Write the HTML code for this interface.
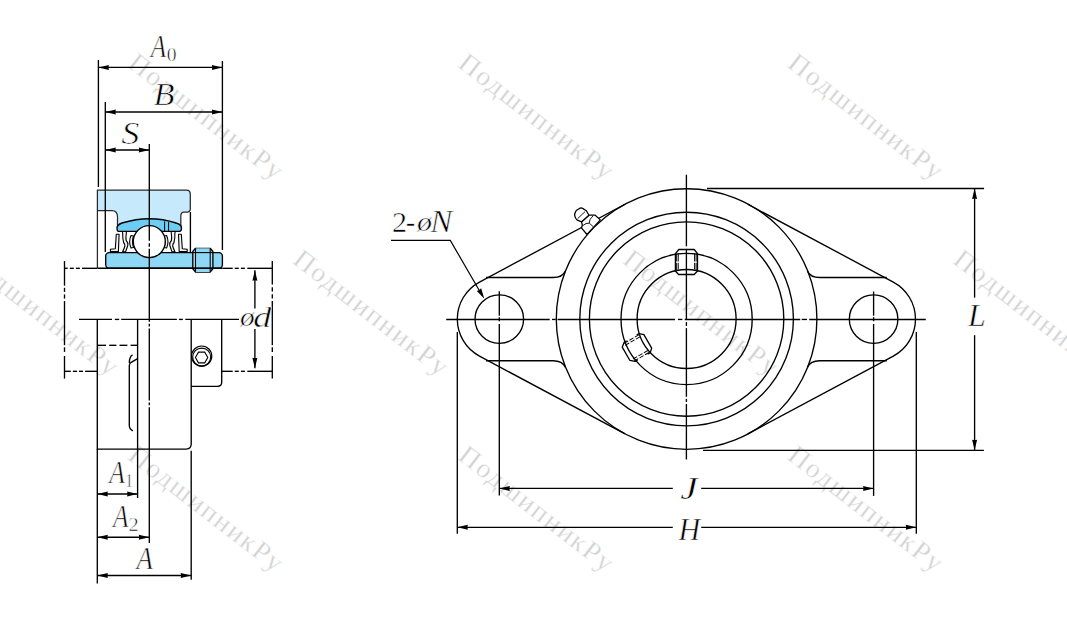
<!DOCTYPE html>
<html><head><meta charset="utf-8"><style>
html,body{margin:0;padding:0;background:#fff;overflow:hidden;width:1067px;height:633px;}
svg{display:block;} text{font-family:"Liberation Serif",serif;}
</style></head><body>
<svg width="1067" height="633" viewBox="0 0 1067 633">
<rect width="1067" height="633" fill="#fff"/>
<text x="0" y="0" transform="translate(126.5,66.3) rotate(37.7)" font-family="Liberation Serif" font-size="27.5" letter-spacing="1.8" fill="#d2d2d2" stroke="#fff" stroke-width="0.35">ПодшипникРу</text>
<text x="0" y="0" transform="translate(456.7,66.3) rotate(37.7)" font-family="Liberation Serif" font-size="27.5" letter-spacing="1.8" fill="#d2d2d2" stroke="#fff" stroke-width="0.35">ПодшипникРу</text>
<text x="0" y="0" transform="translate(786.2,66.3) rotate(37.7)" font-family="Liberation Serif" font-size="27.5" letter-spacing="1.8" fill="#d2d2d2" stroke="#fff" stroke-width="0.35">ПодшипникРу</text>
<text x="0" y="0" transform="translate(-38.6,262.4) rotate(37.7)" font-family="Liberation Serif" font-size="27.5" letter-spacing="1.8" fill="#d2d2d2" stroke="#fff" stroke-width="0.35">ПодшипникРу</text>
<text x="0" y="0" transform="translate(291.5,262.4) rotate(37.7)" font-family="Liberation Serif" font-size="27.5" letter-spacing="1.8" fill="#d2d2d2" stroke="#fff" stroke-width="0.35">ПодшипникРу</text>
<text x="0" y="0" transform="translate(621.5,262.4) rotate(37.7)" font-family="Liberation Serif" font-size="27.5" letter-spacing="1.8" fill="#d2d2d2" stroke="#fff" stroke-width="0.35">ПодшипникРу</text>
<text x="0" y="0" transform="translate(951.8,262.4) rotate(37.7)" font-family="Liberation Serif" font-size="27.5" letter-spacing="1.8" fill="#d2d2d2" stroke="#fff" stroke-width="0.35">ПодшипникРу</text>
<text x="0" y="0" transform="translate(126.5,458.4) rotate(37.7)" font-family="Liberation Serif" font-size="27.5" letter-spacing="1.8" fill="#d2d2d2" stroke="#fff" stroke-width="0.35">ПодшипникРу</text>
<text x="0" y="0" transform="translate(456.8,458.4) rotate(37.7)" font-family="Liberation Serif" font-size="27.5" letter-spacing="1.8" fill="#d2d2d2" stroke="#fff" stroke-width="0.35">ПодшипникРу</text>
<text x="0" y="0" transform="translate(786.2,458.4) rotate(37.7)" font-family="Liberation Serif" font-size="27.5" letter-spacing="1.8" fill="#d2d2d2" stroke="#fff" stroke-width="0.35">ПодшипникРу</text>
<line x1="98.40" y1="60.00" x2="98.40" y2="187.00" stroke="#000" stroke-width="1.35"/>
<line x1="222.40" y1="61.00" x2="222.40" y2="250.00" stroke="#000" stroke-width="1.35"/>
<line x1="98.40" y1="67.40" x2="222.40" y2="67.40" stroke="#000" stroke-width="1.35"/>
<polygon points="98.40,67.40 108.90,64.90 108.50,67.40 108.90,69.90" fill="#000"/>
<polygon points="222.40,67.40 211.90,69.90 212.30,67.40 211.90,64.90" fill="#000"/>
<text transform="translate(150.81,57.22) scale(25.1493,31.4394)" font-family="Liberation Serif" font-size="1" font-style="italic" fill="#000" stroke="#fff" stroke-width="0.020" stroke-linejoin="round">A</text>
<text transform="translate(166.64,61.09) scale(19.6429,18.8889)" font-family="Liberation Serif" font-size="1" fill="#000" stroke="#fff" stroke-width="0.029" stroke-linejoin="round">0</text>
<line x1="105.30" y1="112.00" x2="222.40" y2="112.00" stroke="#000" stroke-width="1.35"/>
<polygon points="105.30,112.00 115.80,109.50 115.40,112.00 115.80,114.50" fill="#000"/>
<polygon points="222.40,112.00 211.90,114.50 212.30,112.00 211.90,109.50" fill="#000"/>
<text transform="translate(153.51,105.25) scale(34.4828,31.7557)" font-family="Liberation Serif" font-size="1" font-style="italic" fill="#000" stroke="#fff" stroke-width="0.021" stroke-linejoin="round">B</text>
<line x1="105.30" y1="150.00" x2="149.30" y2="150.00" stroke="#000" stroke-width="1.35"/>
<polygon points="105.30,150.00 115.80,147.50 115.40,150.00 115.80,152.50" fill="#000"/>
<polygon points="149.30,150.00 138.80,152.50 139.20,150.00 138.80,147.50" fill="#000"/>
<text transform="translate(121.29,143.94) scale(36.4211,31.4925)" font-family="Liberation Serif" font-size="1" font-style="italic" fill="#000" stroke="#fff" stroke-width="0.021" stroke-linejoin="round">S</text>
<path d="M97.4,190 L186.3,190 Q190.3,190 190.3,194 L190.3,209 Q190.3,212 187,212 L184,212 Q180.8,212 180.8,216 L180.8,228 L117.5,228 L117.5,217 Q117.5,210.5 112,210.5 L97.4,210.5 Z" fill="#c6e9fb" stroke="none"/>
<path d="M97.4,268 L97.4,190 L186.3,190 Q190.3,190 190.3,194 L190.3,209 Q190.3,212 187,212 L184,212 Q180.8,212 180.8,216 L180.8,228 M117.5,228 L117.5,217 Q117.5,210.5 112,210.5 L97.4,210.5" fill="none" stroke="#2a2a2a" stroke-width="1.25" stroke-linejoin="round"/>
<line x1="105.30" y1="102.00" x2="105.30" y2="252.00" stroke="#000" stroke-width="1.35"/>
<path d="M 116.30,234.30 L 119.10,234.30 L 118.40,251.50 L 110.40,251.50 L 110.40,249.30 L 115.30,248.80 Z" fill="#f2f2f2" stroke="#000" stroke-width="1.1" stroke-linejoin="round"/>
<path d="M 122.30,231.00 L 126.50,231.00 L 126.30,233.50 Q 125.60,238.00 126.20,240.50 Q 128.60,243.00 127.80,245.50 Q 126.60,249.00 125.60,251.80 L 122.60,251.80 Q 124.40,248.00 124.90,246.00 Q 125.00,244.00 123.60,242.50 Q 122.50,238.00 122.70,233.50 Z" fill="#f2f2f2" stroke="#000" stroke-width="1.1" stroke-linejoin="round"/>
<path d="M 131.00,235.50 Q 128.30,241.50 131.00,248.00 L 133.50,247.50 Q 131.60,241.50 133.50,236.00 Z" fill="#f2f2f2" stroke="#000" stroke-width="1.1" stroke-linejoin="round"/>
<path d="M 181.30,234.30 L 178.50,234.30 L 179.20,251.50 L 187.20,251.50 L 187.20,249.30 L 182.30,248.80 Z" fill="#f2f2f2" stroke="#000" stroke-width="1.1" stroke-linejoin="round"/>
<path d="M 175.30,231.00 L 171.10,231.00 L 171.30,233.50 Q 172.00,238.00 171.40,240.50 Q 169.00,243.00 169.80,245.50 Q 171.00,249.00 172.00,251.80 L 175.00,251.80 Q 173.20,248.00 172.70,246.00 Q 172.60,244.00 174.00,242.50 Q 175.10,238.00 174.90,233.50 Z" fill="#f2f2f2" stroke="#000" stroke-width="1.1" stroke-linejoin="round"/>
<path d="M 166.60,235.50 Q 169.30,241.50 166.60,248.00 L 164.10,247.50 Q 166.00,241.50 164.10,236.00 Z" fill="#f2f2f2" stroke="#000" stroke-width="1.1" stroke-linejoin="round"/>
<path d="M118.5,231.3 L179.5,231.3 Q181.5,231.3 181.5,228 Q181.5,224.5 176,223 Q150,214.5 122,223 Q117,224.8 117,228 Q117,231.3 118.5,231.3 Z" fill="#6ecdf5" stroke="#000" stroke-width="1.35"/>
<line x1="164.60" y1="221.30" x2="164.60" y2="231.90" stroke="#000" stroke-width="1.0"/>
<line x1="168.60" y1="221.80" x2="168.60" y2="231.90" stroke="#000" stroke-width="1.0"/>
<rect x="105.7" y="252.6" width="116.7" height="15.6" rx="3.5" fill="#8ed8f6" stroke="#000" stroke-width="1.35"/>
<path d="M195.5,248.3 L210.2,248.3 L212.9,251.5 L212.9,268.8 L210.2,272 L195.5,272 L192.8,268.8 L192.8,251.5 Z" fill="#a9e0f7" stroke="#000" stroke-width="1.35" stroke-linejoin="round"/>
<rect x="195.5" y="248.3" width="14.7" height="23.7" fill="#8ed8f6"/>
<line x1="195.50" y1="248.30" x2="195.50" y2="272.00" stroke="#000" stroke-width="1.1"/>
<line x1="210.20" y1="248.30" x2="210.20" y2="272.00" stroke="#000" stroke-width="1.1"/>
<line x1="192.80" y1="252.60" x2="212.90" y2="252.60" stroke="#000" stroke-width="1.1"/>
<line x1="192.80" y1="268.20" x2="212.90" y2="268.20" stroke="#000" stroke-width="1.1"/>
<line x1="190.40" y1="212.00" x2="190.40" y2="252.20" stroke="#000" stroke-width="1.35"/>
<circle cx="149.3" cy="241.6" r="16" fill="#fff" stroke="#000" stroke-width="1.35"/>
<line x1="149.30" y1="144.00" x2="149.30" y2="240.70" stroke="#000" stroke-width="1.35"/>
<line x1="149.30" y1="243.20" x2="149.30" y2="246.80" stroke="#000" stroke-width="1.35"/>
<line x1="149.30" y1="248.80" x2="149.30" y2="321.80" stroke="#000" stroke-width="1.35"/>
<line x1="149.30" y1="323.70" x2="149.30" y2="326.60" stroke="#000" stroke-width="1.35"/>
<line x1="149.30" y1="328.50" x2="149.30" y2="400.60" stroke="#000" stroke-width="1.35"/>
<line x1="149.30" y1="402.50" x2="149.30" y2="405.30" stroke="#000" stroke-width="1.35"/>
<line x1="149.30" y1="407.20" x2="149.30" y2="543.00" stroke="#000" stroke-width="1.35"/>
<line x1="97.40" y1="268.20" x2="222.40" y2="268.20" stroke="#000" stroke-width="1.35"/>
<line x1="64.45" y1="268.30" x2="67.70" y2="268.30" stroke="#000" stroke-width="1.35"/>
<line x1="69.80" y1="268.30" x2="73.80" y2="268.30" stroke="#000" stroke-width="1.35"/>
<line x1="75.90" y1="268.30" x2="79.90" y2="268.30" stroke="#000" stroke-width="1.35"/>
<line x1="82.00" y1="268.30" x2="97.40" y2="268.30" stroke="#000" stroke-width="1.35"/>
<line x1="222.40" y1="268.30" x2="232.70" y2="268.30" stroke="#000" stroke-width="1.35"/>
<line x1="234.80" y1="268.30" x2="238.80" y2="268.30" stroke="#000" stroke-width="1.35"/>
<line x1="240.90" y1="268.30" x2="244.90" y2="268.30" stroke="#000" stroke-width="1.35"/>
<line x1="247.30" y1="268.30" x2="272.30" y2="268.30" stroke="#000" stroke-width="1.35"/>
<line x1="64.50" y1="261.10" x2="64.50" y2="285.70" stroke="#000" stroke-width="1.35"/>
<line x1="64.50" y1="287.80" x2="64.50" y2="291.90" stroke="#000" stroke-width="1.35"/>
<line x1="64.50" y1="294.40" x2="64.50" y2="298.60" stroke="#000" stroke-width="1.35"/>
<line x1="64.50" y1="301.10" x2="64.50" y2="345.20" stroke="#000" stroke-width="1.35"/>
<line x1="64.50" y1="347.30" x2="64.50" y2="351.90" stroke="#000" stroke-width="1.35"/>
<line x1="64.50" y1="356.00" x2="64.50" y2="378.60" stroke="#000" stroke-width="1.35"/>
<line x1="272.30" y1="261.10" x2="272.30" y2="284.60" stroke="#000" stroke-width="1.35"/>
<line x1="272.30" y1="287.20" x2="272.30" y2="291.50" stroke="#000" stroke-width="1.35"/>
<line x1="272.30" y1="294.20" x2="272.30" y2="298.40" stroke="#000" stroke-width="1.35"/>
<line x1="272.30" y1="301.10" x2="272.30" y2="345.20" stroke="#000" stroke-width="1.35"/>
<line x1="272.30" y1="347.30" x2="272.30" y2="351.90" stroke="#000" stroke-width="1.35"/>
<line x1="272.30" y1="356.00" x2="272.30" y2="378.40" stroke="#000" stroke-width="1.35"/>
<line x1="64.45" y1="371.30" x2="70.80" y2="371.30" stroke="#000" stroke-width="1.35"/>
<line x1="72.90" y1="371.30" x2="77.10" y2="371.30" stroke="#000" stroke-width="1.35"/>
<line x1="79.00" y1="371.30" x2="83.00" y2="371.30" stroke="#000" stroke-width="1.35"/>
<line x1="85.10" y1="371.30" x2="97.40" y2="371.30" stroke="#000" stroke-width="1.35"/>
<line x1="221.70" y1="371.30" x2="232.70" y2="371.30" stroke="#000" stroke-width="1.35"/>
<line x1="234.80" y1="371.30" x2="238.80" y2="371.30" stroke="#000" stroke-width="1.35"/>
<line x1="240.90" y1="371.30" x2="244.90" y2="371.30" stroke="#000" stroke-width="1.35"/>
<line x1="247.30" y1="371.30" x2="272.30" y2="371.30" stroke="#000" stroke-width="1.35"/>
<line x1="79.00" y1="319.40" x2="112.00" y2="319.40" stroke="#000" stroke-width="1.35"/>
<line x1="114.80" y1="319.40" x2="119.20" y2="319.40" stroke="#000" stroke-width="1.35"/>
<line x1="121.20" y1="319.40" x2="176.90" y2="319.40" stroke="#000" stroke-width="1.35"/>
<line x1="178.90" y1="319.40" x2="182.90" y2="319.40" stroke="#000" stroke-width="1.35"/>
<line x1="185.30" y1="319.40" x2="239.00" y2="319.40" stroke="#000" stroke-width="1.35"/>
<path d="M97.3,319.4 L97.3,449.1 L186.2,449.1 Q191.2,449.1 191.2,444.1 L191.2,319.4" fill="none" stroke="#000" stroke-width="1.35"/>
<path d="M191.2,386.3 L217.7,386.3 Q221.7,386.3 221.7,382.3 L221.7,319.5" fill="none" stroke="#000" stroke-width="1.35"/>
<line x1="137.60" y1="319.50" x2="137.60" y2="498.00" stroke="#000" stroke-width="1.35"/>
<line x1="97.30" y1="345.30" x2="106.00" y2="345.30" stroke="#000" stroke-width="1.35"/>
<line x1="109.20" y1="345.30" x2="116.40" y2="345.30" stroke="#000" stroke-width="1.35"/>
<line x1="119.50" y1="345.30" x2="127.40" y2="345.30" stroke="#000" stroke-width="1.35"/>
<line x1="130.60" y1="345.30" x2="137.60" y2="345.30" stroke="#000" stroke-width="1.35"/>
<path d="M137.6,358.6 L131.2,362.3 Q129.3,363.5 129.3,365.5 L129.3,425.5 Q129.3,429 132.8,430.8" fill="none" stroke="#000" stroke-width="1.35"/>
<path d="M129.3,363 Q129.3,356.5 132.5,354.8" fill="none" stroke="#000" stroke-width="1.35"/>
<circle cx="201.7" cy="356.1" r="10.1" fill="none" stroke="#000" stroke-width="1.2"/>
<circle cx="201.7" cy="357.1" r="9.0" fill="none" stroke="#000" stroke-width="1.1"/>
<polygon points="207.80,357.50 204.70,362.87 198.50,362.87 195.40,357.50 198.50,352.13 204.70,352.13" fill="none" stroke="#000" stroke-width="1.1" stroke-linejoin="round"/>
<line x1="97.30" y1="449.00" x2="97.30" y2="583.40" stroke="#000" stroke-width="1.35"/>
<line x1="191.20" y1="450.70" x2="191.20" y2="579.80" stroke="#000" stroke-width="1.35"/>
<line x1="97.30" y1="494.00" x2="137.60" y2="494.00" stroke="#000" stroke-width="1.35"/>
<polygon points="97.30,494.00 107.80,491.50 107.40,494.00 107.80,496.50" fill="#000"/>
<polygon points="137.60,494.00 127.10,496.50 127.50,494.00 127.10,491.50" fill="#000"/>
<line x1="97.30" y1="537.20" x2="149.30" y2="537.20" stroke="#000" stroke-width="1.35"/>
<polygon points="97.30,537.20 107.80,534.70 107.40,537.20 107.80,539.70" fill="#000"/>
<polygon points="149.30,537.20 138.80,539.70 139.20,537.20 138.80,534.70" fill="#000"/>
<line x1="97.30" y1="575.50" x2="191.20" y2="575.50" stroke="#000" stroke-width="1.35"/>
<polygon points="97.30,575.50 107.80,573.00 107.40,575.50 107.80,578.00" fill="#000"/>
<polygon points="191.20,575.50 180.70,578.00 181.10,575.50 180.70,573.00" fill="#000"/>
<text transform="translate(109.32,482.92) scale(25.4478,30.5303)" font-family="Liberation Serif" font-size="1" font-style="italic" fill="#000" stroke="#fff" stroke-width="0.020" stroke-linejoin="round">A</text>
<text transform="translate(125.15,486.88) scale(15.2857,18.1061)" font-family="Liberation Serif" font-size="1" fill="#000" stroke="#fff" stroke-width="0.033" stroke-linejoin="round">1</text>
<text transform="translate(113.12,527.22) scale(25.2985,30.5303)" font-family="Liberation Serif" font-size="1" font-style="italic" fill="#000" stroke="#fff" stroke-width="0.020" stroke-linejoin="round">A</text>
<text transform="translate(128.51,531.17) scale(20.3750,18.1061)" font-family="Liberation Serif" font-size="1" fill="#000" stroke="#fff" stroke-width="0.029" stroke-linejoin="round">2</text>
<text transform="translate(136.60,569.22) scale(26.7910,31.4394)" font-family="Liberation Serif" font-size="1" font-style="italic" fill="#000" stroke="#fff" stroke-width="0.019" stroke-linejoin="round">A</text>
<line x1="254.90" y1="270.20" x2="254.90" y2="308.60" stroke="#000" stroke-width="1.35"/>
<line x1="254.90" y1="329.00" x2="254.90" y2="368.30" stroke="#000" stroke-width="1.35"/>
<polygon points="254.90,270.20 257.40,280.70 254.90,280.30 252.40,280.70" fill="#000"/>
<polygon points="254.90,368.30 252.40,357.80 254.90,358.20 257.40,357.80" fill="#000"/>
<text transform="translate(240.02,326.27) scale(29.3269,27.6852)" font-family="Liberation Serif" font-size="1" font-style="italic" fill="#000" stroke="#fff" stroke-width="0.019" stroke-linejoin="round">ø</text>
<text transform="translate(253.34,327.08) scale(36.2766,29.0071)" font-family="Liberation Serif" font-size="1" font-style="italic" fill="#000" stroke="#fff" stroke-width="0.017" stroke-linejoin="round">d</text>
<g fill="none" stroke="#000" stroke-width="1.35">
<path d="M625.02,204.27 L479.50,282.06 A42.0,42.0 0 0 0 479.50,356.14 L625.02,433.93"/>
<path d="M747.78,204.27 L893.30,282.06 A42.0,42.0 0 0 1 893.30,356.14 L747.78,433.93"/>
<path d="M486.00,277.50 L553.00,277.50 Q562.50,277.50 565.37,271.10"/>
<path d="M486.00,360.70 L553.00,360.70 Q562.50,360.70 565.37,367.10"/>
<path d="M886.80,277.50 L819.80,277.50 Q810.30,277.50 807.43,271.10"/>
<path d="M886.80,360.70 L819.80,360.70 Q810.30,360.70 807.43,367.10"/>
<circle cx="686.6" cy="319.0" r="130.3"/>
<circle cx="686.6" cy="319.0" r="106.8"/>
<circle cx="686.6" cy="319.0" r="97.2"/>
<circle cx="686.6" cy="319.0" r="65.6"/>
<circle cx="686.6" cy="319.0" r="49.5"/>
<circle cx="499.3" cy="319.1" r="24.3"/>
<circle cx="873.6" cy="319.1" r="24.3"/>
</g>
<g transform="rotate(0 686.4 319.1)" fill="none" stroke="#000"><path d="M678.8,249.5 L694.1999999999999,249.5 L697.5,253.6 L697.5,271 L694.1999999999999,274.5 L678.6,274.5 L675.4,271 L675.4,253.6 Z" fill="none" stroke-width="1.3" stroke-linejoin="round"/><path d="M676.6999999999999,253.6 V261.5 M676.6999999999999,262.8 V271" stroke-width="1.0"/><path d="M678.3,253.3 V261.5 M678.3,262.8 V269.4" stroke-width="0.9"/><path d="M696.1,253.6 V261.5 M696.1,262.8 V271" stroke-width="1.0"/><path d="M694.5,253.3 V261.5 M694.5,262.8 V269.4" stroke-width="0.9"/></g>
<g transform="rotate(-120 686.4 319.1)" fill="none" stroke="#000"><path d="M675.4,256.5 V253.6 L678.8,249.5 H694.1999999999999 L697.5,253.6 V256.5" stroke-width="1.3" stroke-linejoin="round"/><path d="M675.4,268 V271 L678.6,274.5 H694.1999999999999 L697.5,271 V268" stroke-width="1.3" stroke-linejoin="round"/><path d="M678.5,253 V271.5" stroke-width="0.95" stroke-dasharray="4.6,1.6"/><path d="M676.1999999999999,253 V271.5" stroke-width="0.95" stroke-dasharray="4.6,1.6"/><path d="M694.3,253 V271.5" stroke-width="0.95" stroke-dasharray="4.6,1.6"/><path d="M696.6,253 V271.5" stroke-width="0.95" stroke-dasharray="4.6,1.6"/></g>
<path d="M581.6,221.8 L588.9,215.2 L595.2,215.2 L600.3,219.9 L587,234.5 L581.6,228.2 L582.3,225 Z" fill="#fff" stroke="#000" stroke-width="1.25" stroke-linejoin="round"/>
<path d="M582.8,225.6 Q586,222.8 589.2,223.1 L593.4,226.8 M589.2,223.1 Q589.3,219 592.9,216" fill="none" stroke="#000" stroke-width="0.9"/>
<path d="M581.6,221.8 L577.3,220.2 Q575,218.5 574.6,215.2 Q574.8,212.5 576.2,210.6 L579.5,208.4 Q581.2,207.5 582.6,208.4 L586.4,210.8 L588.9,215.2 Z" fill="#fff" stroke="#000" stroke-width="1.25" stroke-linejoin="round"/>
<path d="M577.6,218.6 L585.1,211.6" fill="none" stroke="#000" stroke-width="0.9"/>
<line x1="446.20" y1="319.45" x2="549.70" y2="319.45" stroke="#000" stroke-width="1.35"/>
<line x1="552.00" y1="319.45" x2="555.70" y2="319.45" stroke="#000" stroke-width="1.35"/>
<line x1="557.50" y1="319.45" x2="675.00" y2="319.45" stroke="#000" stroke-width="1.35"/>
<line x1="678.00" y1="319.45" x2="682.40" y2="319.45" stroke="#000" stroke-width="1.35"/>
<line x1="684.70" y1="319.45" x2="800.20" y2="319.45" stroke="#000" stroke-width="1.35"/>
<line x1="801.70" y1="319.45" x2="807.00" y2="319.45" stroke="#000" stroke-width="1.35"/>
<line x1="809.20" y1="319.45" x2="925.80" y2="319.45" stroke="#000" stroke-width="1.35"/>
<line x1="686.40" y1="174.70" x2="686.40" y2="246.30" stroke="#000" stroke-width="1.35"/>
<line x1="686.40" y1="248.90" x2="686.40" y2="319.90" stroke="#000" stroke-width="1.35"/>
<line x1="686.40" y1="322.10" x2="686.40" y2="325.90" stroke="#000" stroke-width="1.35"/>
<line x1="686.40" y1="328.10" x2="686.40" y2="396.80" stroke="#000" stroke-width="1.35"/>
<line x1="686.40" y1="398.80" x2="686.40" y2="402.00" stroke="#000" stroke-width="1.35"/>
<line x1="686.40" y1="404.00" x2="686.40" y2="459.50" stroke="#000" stroke-width="1.35"/>
<line x1="499.30" y1="291.20" x2="499.30" y2="315.70" stroke="#000" stroke-width="1.35"/>
<line x1="499.30" y1="317.20" x2="499.30" y2="321.20" stroke="#000" stroke-width="1.35"/>
<line x1="499.30" y1="324.00" x2="499.30" y2="495.60" stroke="#000" stroke-width="1.35"/>
<line x1="873.60" y1="291.50" x2="873.60" y2="315.70" stroke="#000" stroke-width="1.35"/>
<line x1="873.60" y1="317.20" x2="873.60" y2="321.20" stroke="#000" stroke-width="1.35"/>
<line x1="873.60" y1="324.00" x2="873.60" y2="495.90" stroke="#000" stroke-width="1.35"/>
<line x1="457.30" y1="332.00" x2="457.30" y2="533.70" stroke="#000" stroke-width="1.35"/>
<line x1="916.30" y1="332.00" x2="916.30" y2="533.70" stroke="#000" stroke-width="1.35"/>
<line x1="499.30" y1="488.40" x2="672.80" y2="488.40" stroke="#000" stroke-width="1.35"/>
<line x1="701.20" y1="488.40" x2="873.60" y2="488.40" stroke="#000" stroke-width="1.35"/>
<polygon points="499.30,488.40 509.80,485.90 509.40,488.40 509.80,490.90" fill="#000"/>
<polygon points="873.60,488.40 863.10,490.90 863.50,488.40 863.10,485.90" fill="#000"/>
<line x1="457.30" y1="527.30" x2="672.80" y2="527.30" stroke="#000" stroke-width="1.35"/>
<line x1="701.20" y1="527.30" x2="916.30" y2="527.30" stroke="#000" stroke-width="1.35"/>
<polygon points="457.30,527.30 467.80,524.80 467.40,527.30 467.80,529.80" fill="#000"/>
<polygon points="916.30,527.30 905.80,529.80 906.20,527.30 905.80,524.80" fill="#000"/>
<text transform="translate(680.14,498.86) scale(39.2473,31.8045)" font-family="Liberation Serif" font-size="1" font-style="italic" fill="#000" stroke="#fff" stroke-width="0.016" stroke-linejoin="round">J</text>
<text transform="translate(678.43,539.88) scale(30.1290,30.7634)" font-family="Liberation Serif" font-size="1" font-style="italic" fill="#000" stroke="#fff" stroke-width="0.018" stroke-linejoin="round">H</text>
<line x1="707.00" y1="188.50" x2="984.10" y2="188.50" stroke="#000" stroke-width="1.35"/>
<line x1="703.00" y1="450.30" x2="983.90" y2="450.30" stroke="#000" stroke-width="1.35"/>
<line x1="974.60" y1="188.50" x2="974.60" y2="297.60" stroke="#000" stroke-width="1.35"/>
<line x1="974.60" y1="335.20" x2="974.60" y2="450.30" stroke="#000" stroke-width="1.35"/>
<polygon points="974.60,188.50 977.10,199.00 974.60,198.60 972.10,199.00" fill="#000"/>
<polygon points="974.60,450.30 972.10,439.80 974.60,440.20 977.10,439.80" fill="#000"/>
<text transform="translate(968.05,326.38) scale(32.0192,31.9847)" font-family="Liberation Serif" font-size="1" font-style="italic" fill="#000" stroke="#fff" stroke-width="0.017" stroke-linejoin="round">L</text>
<polyline points="391,240.4 450.3,240.4 482.5,296" fill="none" stroke="#000" stroke-width="1.2"/>
<polygon points="484.30,298.70 476.86,290.88 479.22,289.97 481.18,288.37" fill="#000"/>
<text transform="translate(391.97,232.18) scale(30.1250,30.2273)" font-family="Liberation Serif" font-size="1" fill="#000" stroke="#fff" stroke-width="0.018" stroke-linejoin="round">2</text>
<text transform="translate(405.72,232.31) scale(28.6538,28.6667)" font-family="Liberation Serif" font-size="1" fill="#000" stroke="#fff" stroke-width="0.019" stroke-linejoin="round">-</text>
<text transform="translate(416.93,231.09) scale(30.0962,27.1296)" font-family="Liberation Serif" font-size="1" font-style="italic" fill="#000" stroke="#fff" stroke-width="0.019" stroke-linejoin="round">ø</text>
<text transform="translate(430.19,232.18) scale(33.1250,31.3740)" font-family="Liberation Serif" font-size="1" font-style="italic" fill="#000" stroke="#fff" stroke-width="0.017" stroke-linejoin="round">N</text>
</svg>
</body></html>
